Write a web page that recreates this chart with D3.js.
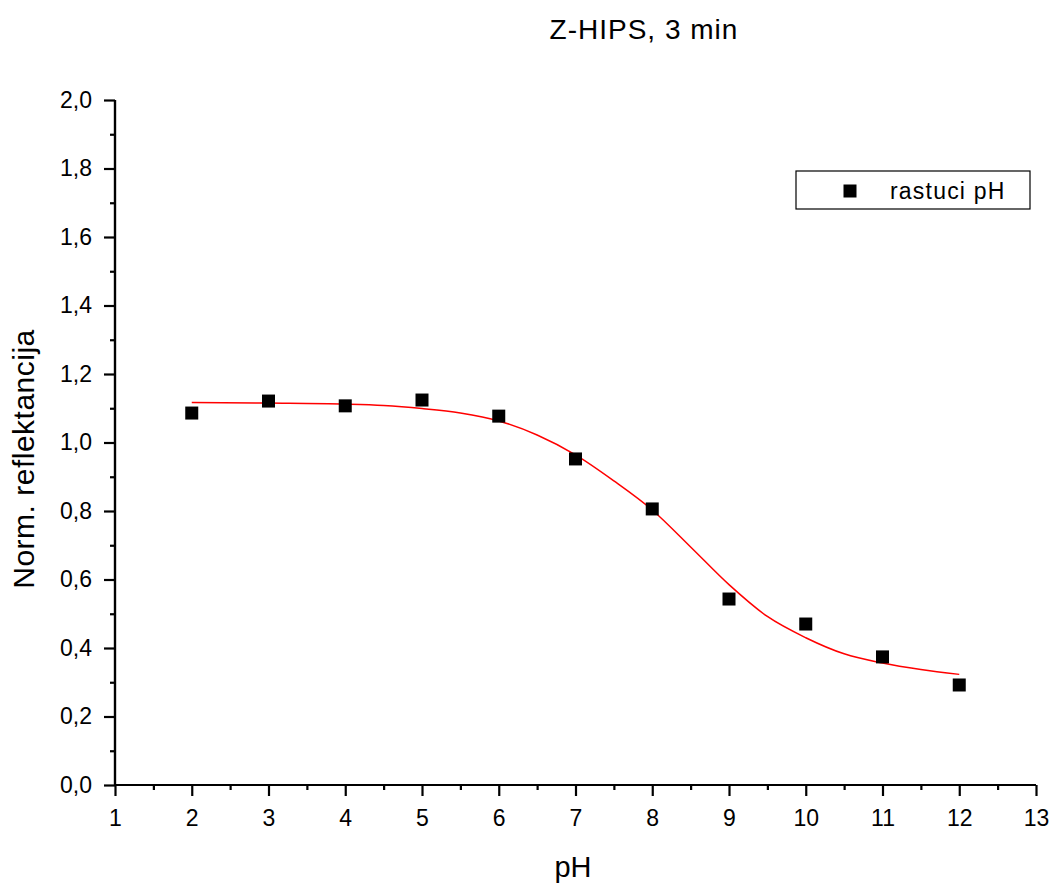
<!DOCTYPE html>
<html>
<head>
<meta charset="utf-8">
<script src="https://cdn.jsdelivr.net/npm/d3@7"></script>
<style>
  body { margin: 0; background: #fff; }
  svg { font-family: "Liberation Sans", Arial, sans-serif; }
</style>
</head>
<body>
<svg id="chart"></svg>
<script>
// measured points (rastuci pH)
const phValues = [2, 3, 4, 5, 6, 7, 8, 9, 10, 11, 12]
const reflValues = [1.086, 1.121, 1.107, 1.124, 1.077, 0.952, 0.806, 0.543, 0.470, 0.374, 0.292]

// fitted curve
const fitX = [2, 3, 4, 4.5, 5, 5.5, 6, 6.5, 7, 7.5, 8, 8.5, 9, 9.5, 10, 10.5, 11, 11.5, 12]
const fitY = [1.117, 1.115, 1.112, 1.108, 1.099, 1.086, 1.063, 1.022, 0.964, 0.888, 0.803, 0.695, 0.585, 0.492, 0.430, 0.383, 0.356, 0.337, 0.323]

const xTicks = [1, 2, 3, 4, 5, 6, 7, 8, 9, 10, 11, 12, 13]
const yTicks = [0, 0.2, 0.4, 0.6, 0.8, 1.0, 1.2, 1.4, 1.6, 1.8, 2.0]

const width = 1054
const height = 884

const svg = d3.select('#chart').attr('width', width).attr('height', height)

const x = d3.scaleLinear().domain([1, 13]).range([115, 1036])
const y = d3.scaleLinear().domain([0, 2]).range([785, 100])

const fmt = (d) => d3.format('.1f')(d).replace('.', ',')

// x axis
const xAxis = svg.append('g').attr('transform', `translate(0,${y(0)})`)
xAxis
  .call(d3.axisBottom(x).tickValues(d3.range(1.5, 13, 1)).tickSize(5).tickFormat(''))
xAxis
  .append('g')
  .call(d3.axisBottom(x).tickValues(xTicks).tickSize(11).tickPadding(14).tickFormat(d3.format('d')))
xAxis.selectAll('.domain').attr('stroke-width', 2.2).attr('d', `M${x(1)},0H${x(13)}`)
xAxis.selectAll('.tick line').attr('stroke-width', 2.2)
xAxis.selectAll('g').attr('font-family', null).attr('font-size', null)
xAxis.attr('font-family', null).attr('font-size', null)
xAxis.selectAll('.tick text').style('font-size', '23px').attr('fill', '#000')

// y axis
const yAxis = svg.append('g').attr('transform', `translate(${x(1)},0)`)
yAxis
  .call(d3.axisLeft(y).tickValues(d3.range(0.1, 2, 0.2)).tickSize(5).tickFormat(''))
yAxis
  .append('g')
  .call(d3.axisLeft(y).tickValues(yTicks).tickSize(11).tickPadding(12).tickFormat(fmt))
yAxis.selectAll('.domain').attr('stroke-width', 2.2).attr('d', `M0,${y(0)}V${y(2)}`)
yAxis.selectAll('.tick line').attr('stroke-width', 2.2)
yAxis.selectAll('g').attr('font-family', null).attr('font-size', null)
yAxis.attr('font-family', null).attr('font-size', null)
yAxis.selectAll('.tick text').style('font-size', '23px').attr('fill', '#000')

// fitted curve
const line = d3
  .line()
  .x((d) => x(d[0]))
  .y((d) => y(d[1]))
  .curve(d3.curveMonotoneX)

svg
  .append('path')
  .datum(d3.zip(fitX, fitY))
  .attr('d', line)
  .attr('fill', 'none')
  .attr('stroke', '#ff0000')
  .attr('stroke-width', 1.5)

// points
const sq = 13
svg
  .append('g')
  .selectAll('rect')
  .data(d3.zip(phValues, reflValues))
  .join('rect')
  .attr('x', (d) => x(d[0]) - sq / 2)
  .attr('y', (d) => y(d[1]) - sq / 2)
  .attr('width', sq)
  .attr('height', sq)
  .attr('fill', '#000')

// legend
const legend = svg.append('g')
legend
  .append('rect')
  .attr('x', 796)
  .attr('y', 171)
  .attr('width', 234)
  .attr('height', 38)
  .attr('fill', '#fff')
  .attr('stroke', '#000')
  .attr('stroke-width', 1.2)
legend
  .append('rect')
  .attr('x', 850 - sq / 2)
  .attr('y', 191 - sq / 2)
  .attr('width', sq)
  .attr('height', sq)
  .attr('fill', '#000')
legend
  .append('text')
  .attr('x', 890)
  .attr('y', 199)
  .attr('font-size', 23)
  .attr('letter-spacing', 1.2)
  .text('rastuci pH')

// titles
svg
  .append('text')
  .attr('x', 644)
  .attr('y', 39)
  .attr('text-anchor', 'middle')
  .attr('font-size', 28)
  .attr('letter-spacing', 1)
  .text('Z-HIPS, 3 min')

svg
  .append('text')
  .attr('x', 573)
  .attr('y', 877)
  .attr('text-anchor', 'middle')
  .attr('font-size', 29)
  .text('pH')

svg
  .append('text')
  .attr('transform', 'translate(34,459) rotate(-90)')
  .attr('text-anchor', 'middle')
  .attr('font-size', 30)
  .attr('letter-spacing', 0.5)
  .text('Norm. reflektancija')
</script>
</body>
</html>
